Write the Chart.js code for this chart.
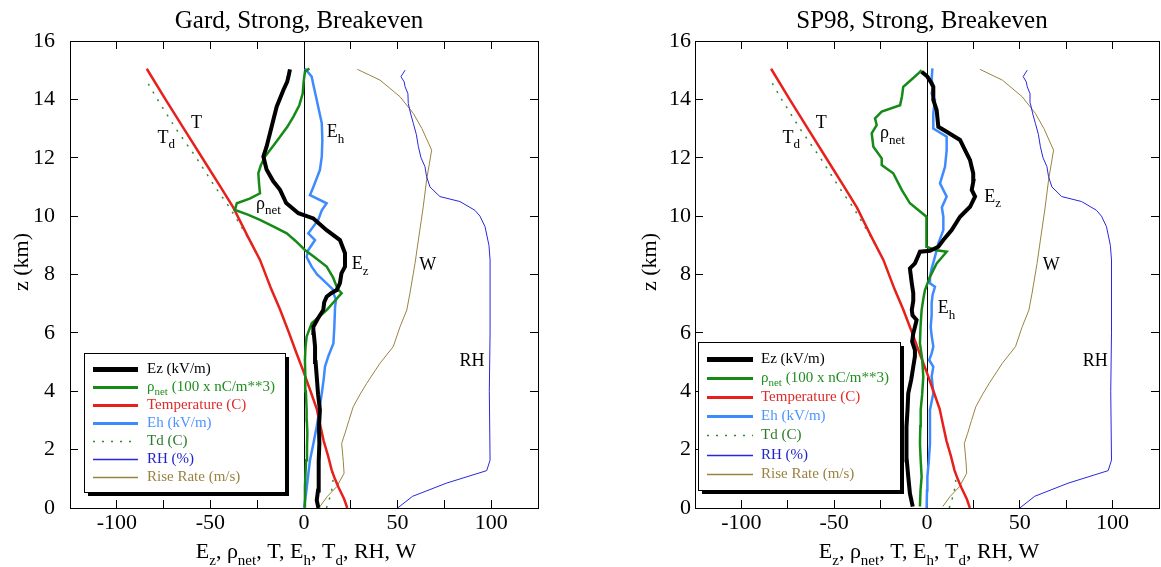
<!DOCTYPE html>
<html>
<head>
<meta charset="utf-8">
<script src="https://cdn.jsdelivr.net/npm/chart.js@4.4.0/dist/chart.umd.min.js"></script>
<style>
  html, body { margin: 0; padding: 0; background: #fff; overflow: hidden; }
  #wrap { position: relative; width: 1161px; height: 567px; overflow: hidden; }
  canvas { position: absolute; top: 0; }
  #gard { left: 0; }
  #sp98 { left: 580px; }
</style>
</head>
<body>
<div id="wrap">
  <canvas id="gard" width="580" height="567"></canvas>
  <canvas id="sp98" width="593" height="567"></canvas>
</div>
<script>
// profiles: [altitude km, value]
// sounding quantities (same in both panels)
const tempC = [[0,23.1],[0.3,21.5],[0.7,18.5],[1.0,16.5],[1.3,14.8],[1.8,12.8],[2.3,10.5],[2.8,8.8],[3.4,6.8],[4.0,3.5],[4.7,-0.4],[5.3,-4.0],[6.0,-8.0],[6.8,-12.8],[7.5,-17.5],[8.5,-23.5],[9.3,-30.0],[10.3,-37.8],[11.0,-44.6],[12.0,-54.4],[13.0,-64.2],[14.0,-74.0],[15.05,-84.0]];
const dewC = [[0,12.0],[0.4,14.0],[0.85,15.6],[1.3,14.8],[1.8,12.8],[2.3,10.5],[2.8,8.8],[3.4,6.8],[4.0,3.5],[4.7,-0.4],[5.3,-4.0],[6.0,-8.0],[6.8,-12.8],[7.5,-17.5],[8.5,-23.5],[9.3,-30.3],[10.3,-39.8],[11.0,-47.5],[12.0,-57.5],[13.0,-68.5],[14.0,-78.3],[14.72,-84.9]];
const rhPct = [[0,50],[0.4,58],[0.85,76],[1.28,97.6],[1.64,99.4],[4.0,99.0],[6.0,99.4],[8.5,99.4],[9.0,98.8],[9.64,96.7],[10.0,94.0],[10.2,91.3],[10.5,83.3],[10.67,72.6],[11.0,67.3],[11.35,65.5],[11.7,64.6],[12.0,62.5],[12.38,61.1],[12.8,60.0],[13.18,58.4],[13.5,57.0],[13.86,55.7],[14.2,55.5],[14.43,54.0],[14.6,53.5],[14.78,51.8],[15.0,54.0]];
const riseMs = [[0.05,8.5],[0.4,12.5],[0.73,17.5],[1.19,21.4],[1.6,21.0],[2.21,20.1],[2.56,21.9],[3.0,24.0],[3.47,26.3],[3.9,30.0],[4.27,33.5],[4.96,40.6],[5.53,47.7],[6.21,51.3],[6.78,54.9],[7.36,56.6],[8.38,59.3],[9.18,61.1],[10.32,63.7],[11.24,65.5],[12.26,68.2],[13.0,63.0],[13.52,58.4],[14.09,51.3],[14.66,40.6],[15.03,28.5]];

// Gard model
const gardEz = [[0,7.7],[0.27,6.8],[0.6,7.5],[1.07,7.7],[1.6,8.0],[2.21,8.2],[2.8,8.0],[3.36,8.5],[3.9,7.5],[4.5,6.8],[5.0,6.2],[5.53,5.9],[6.0,5.2],[6.21,5.0],[6.5,7.5],[6.78,10.3],[7.05,10.8],[7.24,12.1],[7.36,14.5],[7.47,17.5],[7.7,19.2],[8.04,20.0],[8.27,21.9],[8.73,21.9],[9.18,19.2],[9.52,12.1],[9.92,5.0],[10.1,-3.0],[10.45,-9.5],[10.9,-12.8],[11.2,-16.5],[11.6,-20.0],[12.04,-21.7],[12.38,-20.0],[13.06,-17.3],[13.75,-14.6],[14.32,-11.0],[14.6,-9.0],[14.78,-8.3],[15.03,-7.5]];
const gardRho = [[0.05,0],[0.73,0.5],[1.2,0.8],[1.64,1.1],[2.1,1.6],[2.56,1.8],[3.0,1.5],[3.36,1.4],[4.0,1.0],[4.5,0.7],[5.07,0.5],[5.5,0.8],[5.87,1.4],[6.33,4.1],[6.55,8.0],[6.78,12.1],[7.1,16.5],[7.36,20.1],[7.5,18.0],[7.58,17.5],[7.9,15.5],[8.27,12.1],[8.6,5.5],[8.84,0.5],[9.15,-4.5],[9.41,-9.2],[9.65,-16.5],[9.87,-23.5],[10.05,-30.0],[10.21,-36.9],[10.44,-35.9],[10.6,-29.0],[10.78,-23.5],[11.1,-24.0],[11.47,-24.4],[11.75,-23.0],[12.04,-20.8],[12.4,-16.5],[12.72,-12.8],[13.05,-9.0],[13.4,-5.7],[13.8,-2.5],[14.2,-0.7],[14.6,-0.2],[14.95,0.5],[15.06,2.9]];
const gardEh = [[0,0],[0.5,1.1],[1.0,2.0],[1.64,3.2],[2.2,5.0],[2.79,6.8],[3.36,8.2],[3.93,9.5],[4.4,10.5],[4.84,11.2],[5.2,13.0],[5.64,15.7],[6.2,16.2],[6.9,16.6],[7.13,17.1],[7.36,15.7],[7.47,15.7],[7.81,10.3],[8.0,7.0],[8.27,4.1],[8.6,1.4],[8.84,2.3],[9.18,5.9],[9.41,2.3],[9.87,7.6],[10.2,9.5],[10.44,12.1],[10.72,3.2],[11.0,5.0],[11.58,8.5],[12.04,9.5],[12.6,9.8],[13.18,9.5],[13.98,6.8],[14.5,5.0],[14.78,4.1],[15.06,0.5]];

// SP98 model
const spEz = [[0.05,-7.7],[0.5,-9.2],[1.07,-10.1],[1.64,-10.9],[2.21,-11.2],[2.79,-10.9],[3.36,-10.5],[3.93,-10.1],[4.4,-8.5],[4.84,-7.4],[5.2,-6.5],[5.41,-6.5],[5.7,-8.0],[5.98,-7.4],[6.2,-6.5],[6.44,-5.6],[6.6,-7.8],[6.78,-8.2],[7.1,-7.4],[7.36,-7.4],[7.7,-8.2],[8.0,-8.8],[8.21,-9.2],[8.38,-6.5],[8.6,-5.0],[8.78,-3.8],[8.81,1.6],[8.95,6.1],[9.18,8.8],[9.52,13.3],[9.98,17.8],[10.32,23.2],[10.67,25.9],[10.9,24.1],[11.2,25.0],[11.47,24.9],[11.7,24.0],[11.92,23.2],[12.26,20.5],[12.61,17.8],[12.89,10.6],[13.06,6.1],[13.63,5.2],[13.98,3.4],[14.43,3.4],[14.6,2.0],[14.78,0.2],[14.95,-2.9]];
const spRho = [[0.05,-3.8],[0.6,-3.5],[1.07,-2.9],[1.64,-3.4],[2.21,-3.8],[2.8,-3.6],[3.36,-3.4],[3.9,-2.6],[4.5,-2.0],[5.1,-2.6],[5.64,-3.8],[6.2,-3.5],[6.78,-2.9],[7.2,-1.9],[7.47,-1.1],[7.92,1.6],[8.38,5.2],[8.78,10.6],[8.84,4.3],[8.95,-0.2],[9.5,-0.4],[9.98,-0.2],[10.44,-9.2],[10.9,-13.6],[11.47,-18.2],[11.75,-24.4],[11.98,-24.4],[12.38,-28.9],[12.84,-29.8],[13.12,-27.1],[13.35,-28.0],[13.58,-24.4],[13.8,-14.5],[14.1,-13.5],[14.43,-12.8],[14.7,-8.0],[14.9,-4.5],[15.0,-2.9]];
const spEh = [[0,-0.2],[0.6,0],[1.07,0.2],[1.64,1.0],[2.21,1.6],[2.8,1.6],[3.36,1.6],[3.93,3.4],[4.2,3.0],[4.5,2.5],[4.84,3.4],[5.07,1.2],[5.3,2.5],[5.53,3.4],[5.9,2.5],[6.21,2.0],[6.6,2.5],[7.01,2.5],[7.3,3.0],[7.58,4.3],[7.7,1.6],[7.92,1.6],[8.2,2.5],[8.61,4.3],[9.07,6.1],[9.52,8.8],[9.98,8.8],[10.3,8.0],[10.67,10.6],[11.12,7.0],[11.69,9.7],[12.26,10.6],[12.72,10.6],[13.0,3.4],[13.52,3.4],[13.98,4.3],[14.2,2.5],[14.43,3.4],[14.66,2.5],[15.06,2.9]];

// in-plot labels: [text, x, z]
const gardNotes = [['T',-60.4,13.03],['T_{d}',-78.2,12.52],['E_{h}',12.1,12.7],['ρ_{net}',-25.6,10.25],['E_{z}',25.5,8.18],['W',61.6,8.15],['RH',83.0,4.86]];
const spNotes = [['T',-60.0,13.03],['T_{d}',-77.8,12.52],['ρ_{net}',-25.3,12.66],['E_{z}',30.9,10.49],['W',62.3,8.15],['E_{h}',5.8,6.67],['RH',83.9,4.86]];

const xTicks = [-100, -50, 0, 50, 100];
const SERIF = '"Liberation Serif", "Times New Roman", serif';

const prof = arr => arr.map(p => ({ x: p[1], y: p[0] }));

function drawRich(ctx, text, x, y, size, align) {
    const parts = [];
    const re = /_\{([^}]*)\}/g;
    let last = 0, m;
    while ((m = re.exec(text))) {
        if (m.index > last) parts.push({ t: text.slice(last, m.index), sub: false });
        parts.push({ t: m[1], sub: true });
        last = re.lastIndex;
    }
    if (last < text.length) parts.push({ t: text.slice(last), sub: false });
    const subSize = Math.round(size * 0.7);
    let w = 0;
    parts.forEach(p => {
        ctx.font = (p.sub ? subSize : size) + 'px ' + SERIF;
        p.w = ctx.measureText(p.t).width;
        w += p.w;
    });
    let cx = align === 'center' ? x - w / 2 : x;
    ctx.textAlign = 'left';
    parts.forEach(p => {
        ctx.font = (p.sub ? subSize : size) + 'px ' + SERIF;
        ctx.fillText(p.t, cx, p.sub ? y + size * 0.3 : y);
        cx += p.w;
    });
}

const decor = {
    id: 'decor',
    afterDraw(chart) {
        const o = chart.options.plugins.decor;
        const ctx = chart.ctx;
        const ca = chart.chartArea;
        const sx = chart.scales.x, sy = chart.scales.y;
        ctx.save();
        ctx.fillStyle = '#000';
        ctx.textBaseline = 'alphabetic';
        // title
        drawRich(ctx, o.title, (ca.left + ca.right) / 2 - 5, 28, 25, 'center');
        // x axis title
        drawRich(ctx, 'E_{z}, ρ_{net}, T, E_{h}, T_{d}, RH, W', (ca.left + ca.right) / 2 + 2, 558, 22, 'center');
        // y axis title
        ctx.save();
        ctx.translate(o.yTitleX, 262);
        ctx.rotate(-Math.PI / 2);
        ctx.font = '22px ' + SERIF;
        ctx.textAlign = 'center';
        ctx.textBaseline = 'middle';
        ctx.fillText('z (km)', 0, 0);
        ctx.restore();
        // curve labels
        o.notes.forEach(n => {
            drawRich(ctx, n[0], sx.getPixelForValue(n[1]), sy.getPixelForValue(n[2]), 18, 'left');
        });
        // legend box with drop shadow
        const L = o.legend;
        ctx.fillStyle = '#000';
        ctx.fillRect(L.x + 4, L.y + 4, L.w, L.h);
        ctx.fillStyle = '#fff';
        ctx.fillRect(L.x, L.y, L.w, L.h);
        ctx.strokeStyle = '#000';
        ctx.lineWidth = 1;
        ctx.strokeRect(L.x + 0.5, L.y + 0.5, L.w, L.h);
        ctx.textBaseline = 'middle';
        chart.data.datasets.forEach((ds, i) => {
            const yy = Math.round(L.row0 + i * L.step) + 0.5;
            ctx.save();
            ctx.strokeStyle = ds.borderColor;
            ctx.lineWidth = ds.legendWidth;
            ctx.setLineDash(ds.borderDash || []);
            ctx.beginPath();
            ctx.moveTo(L.lx0, yy);
            ctx.lineTo(L.lx1, yy);
            ctx.stroke();
            ctx.restore();
            ctx.fillStyle = ds.textColor;
            drawRich(ctx, ds.label, L.tx, yy, 15, 'left');
        });
        ctx.restore();
    }
};

function makeDatasets(ez, rho, eh) {
    return [
        { label: 'Ez (kV/m)', data: prof(ez), borderColor: '#000000', borderWidth: 4, legendWidth: 5, textColor: '#000000' },
        { label: 'ρ_{net} (100 x nC/m**3)', data: prof(rho), borderColor: '#168a16', borderWidth: 2.5, legendWidth: 3, textColor: '#1f8f1f' },
        { label: 'Temperature (C)', data: prof(tempC), borderColor: '#e8201c', borderWidth: 2.5, legendWidth: 3, textColor: '#e02a2a' },
        { label: 'Eh (kV/m)', data: prof(eh), borderColor: '#3d8bff', borderWidth: 2.5, legendWidth: 3, textColor: '#4d94ff' },
        { label: 'Td (C)', data: prof(dewC), borderColor: '#2e8b2e', borderWidth: 1.5, borderDash: [2, 7], legendWidth: 1.5, textColor: '#2b7b2b' },
        { label: 'RH (%)', data: prof(rhPct), borderColor: '#2727e0', borderWidth: 1, legendWidth: 1.3, textColor: '#2222cc' },
        { label: 'Rise Rate (m/s)', data: prof(riseMs), borderColor: '#9a8240', borderWidth: 1, legendWidth: 1.3, textColor: '#9a8240' }
    ].map(d => Object.assign(d, { showLine: true, pointRadius: 0, fill: false, tension: 0 }));
}

function makeChart(id, p) {
    const tickFont = { family: SERIF, size: 22 };
    return new Chart(document.getElementById(id), {
        type: 'scatter',
        data: { datasets: makeDatasets(p.ez, p.rho, p.eh) },
        options: {
            responsive: false,
            animation: false,
            events: [],
            layout: { padding: { left: 0, right: p.padRight, top: 41, bottom: 0 } },
            scales: {
                x: {
                    type: 'linear', position: 'bottom', min: -125, max: 125,
                    ticks: {
                        stepSize: 25, autoSkip: false, maxRotation: 0, font: tickFont, color: '#000', padding: 10,
                        callback: v => xTicks.includes(v) ? String(v) : ''
                    },
                    grid: {
                        drawOnChartArea: true, tickLength: -8, tickColor: '#000', lineWidth: 1,
                        color: c => (c.tick && c.tick.value === 0) ? '#000' : 'rgba(0,0,0,0)'
                    },
                    border: { display: true, color: '#000', width: 1 },
                    afterFit: s => { s.height = 59; }
                },
                x2: {
                    type: 'linear', position: 'top', min: -125, max: 125,
                    ticks: { stepSize: 25, display: false },
                    grid: { drawOnChartArea: false, tickLength: -8, color: '#000' },
                    border: { display: true, color: '#000', width: 1 },
                    afterFit: s => { s.height = 0; }
                },
                y: {
                    type: 'linear', position: 'left', min: 0, max: 16,
                    ticks: { stepSize: 2, font: tickFont, color: '#000', padding: p.yPad },
                    grid: { drawOnChartArea: false, tickLength: -8, color: '#000' },
                    border: { display: true, color: '#000', width: 1 },
                    afterFit: s => { s.width = p.yWidth; }
                },
                y2: {
                    type: 'linear', position: 'right', min: 0, max: 16,
                    ticks: { stepSize: 2, display: false },
                    grid: { drawOnChartArea: false, tickLength: -8, color: '#000' },
                    border: { display: true, color: '#000', width: 1 },
                    afterFit: s => { s.width = 0; }
                }
            },
            plugins: {
                legend: { display: false },
                tooltip: { enabled: false },
                decor: { title: p.title, notes: p.notes, legend: p.legend, yTitleX: p.yTitleX }
            }
        },
        plugins: [decor]
    });
}

makeChart('gard', {
    title: 'Gard, Strong, Breakeven',
    ez: gardEz, rho: gardRho, eh: gardEh, notes: gardNotes,
    padRight: 42, yWidth: 70, yPad: 23, yTitleX: 22,
    legend: { x: 84, y: 353, w: 201, h: 139, lx0: 93, lx1: 138, tx: 147, row0: 369, step: 17.95 }
});

makeChart('sp98', {
    title: 'SP98, Strong, Breakeven',
    ez: spEz, rho: spRho, eh: spEh, notes: spNotes,
    padRight: 14, yWidth: 115, yPad: 12, yTitleX: 70,
    legend: { x: 118, y: 342, w: 202, h: 148, lx0: 127, lx1: 173, tx: 181, row0: 359, step: 19.1 }
});
</script>
</body>
</html>
